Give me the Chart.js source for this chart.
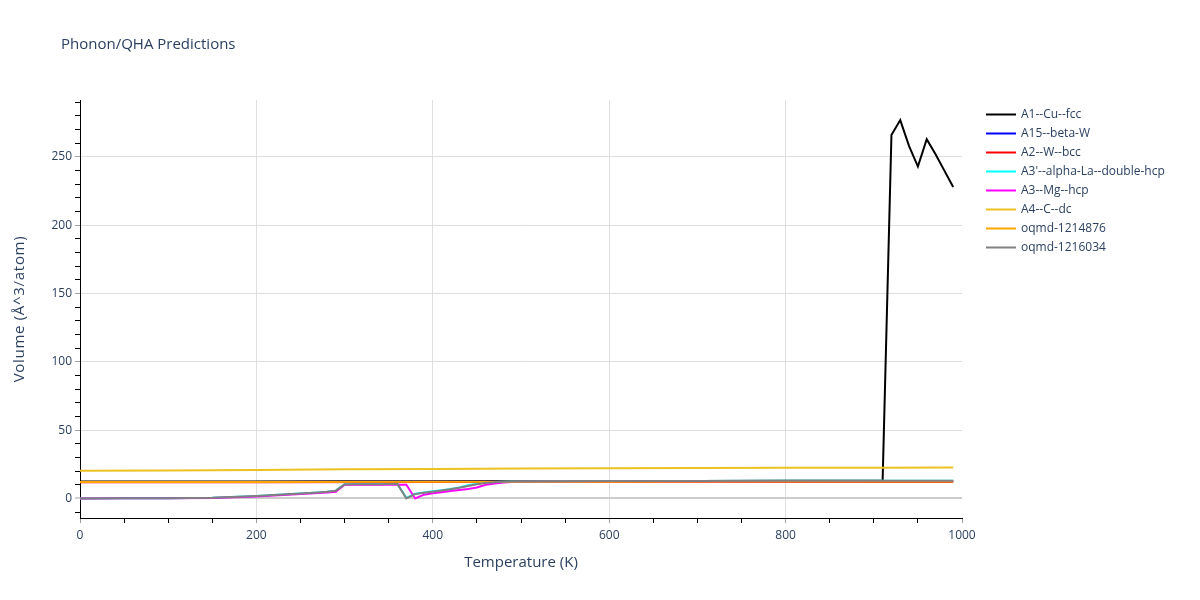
<!DOCTYPE html>
<html>
<head>
<meta charset="utf-8">
<script src="https://cdn.jsdelivr.net/npm/chart.js@4.4.1/dist/chart.umd.min.js"></script>
<style>
  html, body { margin: 0; padding: 0; background: #ffffff; }
  #wrap { width: 1200px; height: 600px; position: relative; }
</style>
</head>
<body>
<div id="wrap"><canvas id="c" width="1200" height="600"></canvas></div>
<script>
// ---- data ----
const chartTitle = "Phonon/QHA Predictions";
const xTitle = "Temperature (K)";
const yTitle = "Volume (Å^3/atom)";

const seriesNames = ["A1--Cu--fcc", "A15--beta-W", "A2--W--bcc", "A3'--alpha-La--double-hcp",
                     "A3--Mg--hcp", "A4--C--dc", "oqmd-1214876", "oqmd-1216034"];
const seriesColors = ["#000000", "#0000ff", "#ff0000", "#00ffff", "#ff00ff", "#ebc21f", "#ffa500", "#808080"];

// A1--Cu--fcc
const cuT = [0, 100, 200, 300, 400, 500, 600, 700, 800, 900, 910, 920, 930, 940, 950, 960, 970, 980, 990];
const cuV = [12.4, 12.4, 12.5, 12.6, 12.6, 12.7, 12.7, 12.8, 12.9, 13.0, 13.1, 266, 277, 258, 243, 263, 252, 240, 228];

// flat series
const flatT = [0, 200, 400, 600, 800, 990];
const betaWV = [12.0, 12.1, 12.2, 12.3, 12.4, 12.5];
const bccWV = [11.8, 11.9, 12.0, 12.1, 12.2, 12.3];
const oqmd1214876V = [12.0, 12.1, 12.2, 12.3, 12.4, 12.5];

// A4--C--dc
const dcT = [0, 100, 200, 300, 400, 500, 600, 700, 800, 900, 990];
const dcV = [20.2, 20.5, 20.9, 21.3, 21.6, 21.9, 22.1, 22.3, 22.4, 22.5, 22.6];

// low-temperature jagged series
const lowT = [0, 50, 100, 150, 200, 250, 270, 280, 290, 300, 310, 320, 330, 340, 350, 360, 370, 380, 390,
              400, 410, 420, 430, 440, 450, 460, 470, 480, 490, 500, 600, 700, 800, 900, 990];
const laV = [0, 0.1, 0.2, 0.5, 1.8, 3.6, 4.4, 4.9, 5.7, 10.4, 10.5, 10.5, 10.5, 10.5, 10.5, 10.5, 0.5, 3.5, 4.4,
             5.2, 6.0, 6.9, 8.0, 9.6, 10.8, 11.6, 12.1, 12.3, 12.4, 12.5, 12.7, 12.8, 12.9, 13.0, 13.0];
const mgV = [0, 0.1, 0.2, 0.4, 1.5, 3.3, 4.0, 4.4, 4.9, 10.0, 10.0, 10.0, 10.0, 10.0, 10.0, 10.0, 10.0, 0.0, 2.8,
             3.8, 4.6, 5.4, 6.2, 7.0, 8.0, 10.0, 11.0, 11.6, 12.0, 12.2, 12.4, 12.5, 12.6, 12.7, 12.7];
const oqmd1216034V = [0, 0.1, 0.2, 0.5, 1.8, 3.6, 4.4, 4.9, 5.7, 10.3, 10.4, 10.4, 10.4, 10.4, 10.5, 10.5, 0.0, 3.2, 4.2,
             5.0, 5.8, 6.7, 7.8, 9.2, 10.4, 11.3, 11.9, 12.2, 12.4, 12.5, 12.7, 12.8, 12.9, 13.0, 13.0];

const xTickLabels = [0, 200, 400, 600, 800, 1000];
const yTickLabels = [0, 50, 100, 150, 200, 250];

// ---- build chart ----
const seriesT = [cuT, flatT, flatT, lowT, lowT, dcT, flatT, lowT];
const seriesV = [cuV, betaWV, bccWV, laV, mgV, dcV, oqmd1214876V, oqmd1216034V];

const FONT = "'Open Sans', 'Liberation Sans', sans-serif";
const TXT = "#2a3f5f";
const N = seriesNames.length;

const datasets = seriesNames.map((name, i) => ({
  label: name,
  data: seriesT[i].map((t, k) => ({ x: t, y: seriesV[i][k] })),
  borderColor: seriesColors[i],
  backgroundColor: seriesColors[i],
  borderWidth: 2,
  pointRadius: 0,
  tension: 0,
  fill: false,
  order: N - i
}));

const near = (v, m) => Math.abs(v - Math.round(v / m) * m) < 1e-6;

const overlay = {
  id: 'overlay',
  afterDraw(chart) {
    const ctx = chart.ctx;
    ctx.save();
    ctx.fillStyle = TXT;
    ctx.font = "15px " + FONT;
    ctx.textBaseline = 'middle';
    ctx.textAlign = 'left';
    ctx.fillText(chartTitle, 61, 45);

    // y-axis title, rotated
    const area = chart.chartArea;
    ctx.save();
    ctx.translate(20, (area.top + area.bottom) / 2);
    ctx.rotate(-Math.PI / 2);
    ctx.font = "15px " + FONT;
    if ('letterSpacing' in ctx) ctx.letterSpacing = '0.7px';
    ctx.textAlign = 'center';
    ctx.fillText(yTitle, 0, 0);
    ctx.restore();

    ctx.font = "12px " + FONT;
    ctx.textAlign = 'left';
    chart.data.datasets.forEach((ds, i) => {
      const y = 114.5 + i * 19;
      ctx.strokeStyle = ds.borderColor;
      ctx.lineWidth = 2;
      ctx.beginPath();
      ctx.moveTo(986, y);
      ctx.lineTo(1016, y);
      ctx.stroke();
      ctx.fillStyle = TXT;
      ctx.fillText(ds.label, 1021, y);
    });
    ctx.restore();
  }
};

new Chart(document.getElementById('c'), {
  type: 'line',
  data: { datasets },
  options: {
    responsive: false,
    animation: false,
    layout: { padding: { left: 0, top: 100, right: 238, bottom: 0 } },
    plugins: { legend: { display: false }, title: { display: false }, tooltip: { enabled: false } },
    scales: {
      x: {
        type: 'linear', min: 0, max: 1000,
        afterFit(s) { s.height = 82; },
        ticks: {
          stepSize: 50, autoSkip: false, maxRotation: 0, padding: 5,
          color: TXT, font: { family: FONT, size: 12 },
          callback: (v) => xTickLabels.includes(v) ? String(v) : ''
        },
        grid: {
          tickLength: 5,
          color: (c) => (c.tick && near(c.tick.value, 200) && c.tick.value > 0 && c.tick.value < 1000) ? '#dedede' : 'rgba(0,0,0,0)',
          tickColor: (c) => (c.tick && near(c.tick.value, 200)) ? '#a0a0a0' : '#000000'
        },
        border: { display: true, color: '#000000', width: 1 },
        title: { display: true, text: xTitle, color: TXT, font: { family: FONT, size: 15 }, padding: { top: 0, bottom: 28 } }
      },
      y: {
        type: 'linear', min: -14.3, max: 291.7,
        afterFit(s) { s.width = 80; },
        ticks: {
          stepSize: 10, autoSkip: false, includeBounds: false, padding: 3,
          color: TXT, font: { family: FONT, size: 12 },
          callback: (v) => yTickLabels.includes(v) ? String(v) : ''
        },
        grid: {
          tickLength: 5,
          color: (c) => {
            if (!c.tick) return 'rgba(0,0,0,0)';
            const v = c.tick.value;
            if (Math.abs(v) < 1e-6) return '#cccccc';
            return near(v, 50) ? '#dedede' : 'rgba(0,0,0,0)';
          },
          lineWidth: (c) => (c.tick && Math.abs(c.tick.value) < 1e-6) ? 2 : 1,
          tickColor: (c) => {
            if (!c.tick) return 'rgba(0,0,0,0)';
            const v = c.tick.value;
            if (!near(v, 10)) return 'rgba(0,0,0,0)';
            return near(v, 50) ? '#a0a0a0' : '#000000';
          },
          tickWidth: 1
        },
        border: { display: true, color: '#000000', width: 1 },
        title: { display: false, text: yTitle }
      }
    }
  },
  plugins: [overlay]
});
</script>
</body>
</html>
